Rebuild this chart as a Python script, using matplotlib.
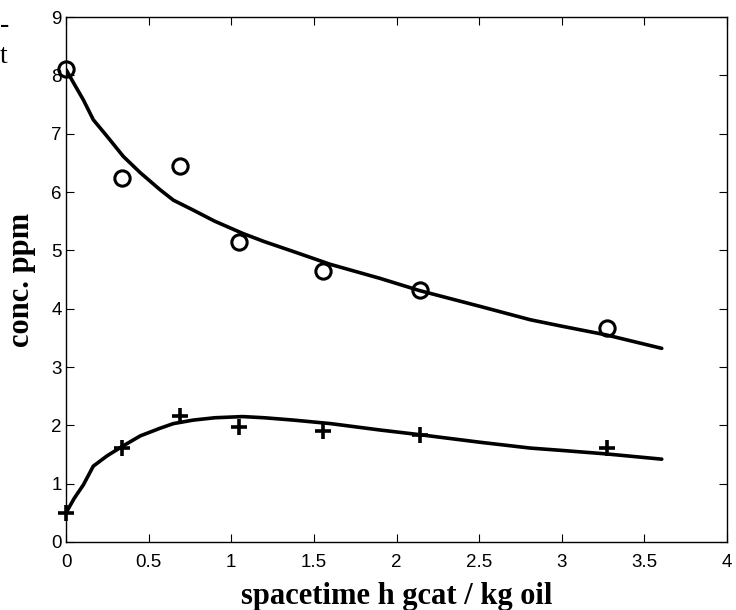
import matplotlib
matplotlib.use("Agg")
import matplotlib.pyplot as plt

# measured data (circles: species A, plus: species B)
t_obs = [0.0, 0.34, 0.69, 1.045, 1.555, 2.145, 3.275]
conc_A = [8.11, 6.24, 6.45, 5.15, 4.65, 4.32, 3.67]
conc_B = [0.49, 1.62, 2.16, 1.97, 1.91, 1.84, 1.62]

# model curves
t_fit = [0.0, 0.05, 0.105, 0.165, 0.25, 0.347, 0.45, 0.569, 0.65, 0.77, 0.9, 1.07,
         1.2, 1.376, 1.6, 1.9, 2.14, 2.505, 2.81, 3.0, 3.27, 3.605]
fit_A = [8.1, 7.85, 7.58, 7.24, 6.95, 6.61, 6.33, 6.04, 5.86, 5.69, 5.5, 5.29,
         5.15, 4.98, 4.76, 4.52, 4.31, 4.04, 3.81, 3.70, 3.55, 3.32]
fit_B = [0.5, 0.75, 0.98, 1.3, 1.48, 1.65, 1.82, 1.95, 2.03, 2.09, 2.13, 2.15,
         2.13, 2.09, 2.03, 1.92, 1.84, 1.71, 1.61, 1.57, 1.51, 1.42]

fig = plt.figure(figsize=(7.36, 6.1), dpi=100)
ax = fig.add_axes([0.0897, 0.1115, 0.8981, 0.8605])

ax.plot(t_fit, fit_A, color="black", lw=2.6, solid_capstyle="round")
ax.plot(t_fit, fit_B, color="black", lw=2.6, solid_capstyle="round")
ax.plot(t_obs, conc_A, linestyle="none", marker="o", markersize=11,
        markerfacecolor="none", markeredgecolor="black", markeredgewidth=2.2, clip_on=False)
ax.plot(t_obs, conc_B, linestyle="none", marker="+", markersize=11,
        color="black", markeredgewidth=2.6, clip_on=False)

ax.set_xlim(0, 4)
ax.set_ylim(0, 9)
ax.set_xticks([0, 0.5, 1, 1.5, 2, 2.5, 3, 3.5, 4])
ax.set_xticklabels(["0", "0.5", "1", "1.5", "2", "2.5", "3", "3.5", "4"])
ax.set_yticks(range(0, 10))
ax.tick_params(direction="in", top=True, right=True, length=6, width=0.8,
               labelsize=13.5)
ax.tick_params(axis="x", pad=9)
ax.tick_params(axis="y", pad=3)
for lab in ax.get_xticklabels() + ax.get_yticklabels():
    lab.set_family("Liberation Sans")
for s in ax.spines.values():
    s.set_linewidth(1.0)

ax.set_xlabel("spacetime h gcat / kg oil", family="Liberation Serif",
              fontweight="bold", fontsize=22, labelpad=7.5)
ax.set_ylabel("conc. ppm", family="Liberation Serif",
              fontweight="bold", fontsize=22, labelpad=11)

fig.text(0.0, 0.959, "-", family="Liberation Serif", fontsize=20, ha="left", va="center")
fig.text(0.0, 0.907, "t", family="Liberation Serif", fontsize=20, ha="left", va="center")

fig.savefig("out.png", dpi=100)
